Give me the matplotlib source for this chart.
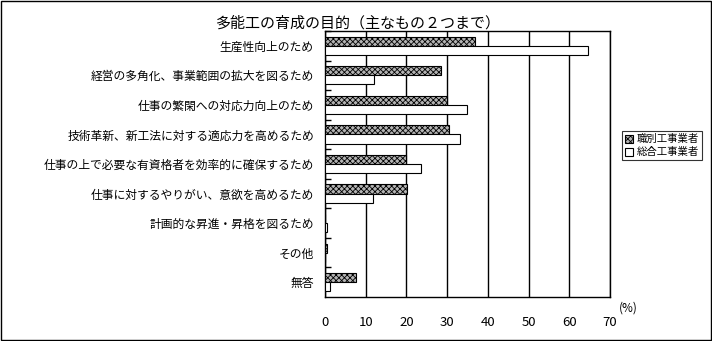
import matplotlib
matplotlib.use("Agg")
import matplotlib.pyplot as plt
import numpy as np
from matplotlib.patches import Rectangle

plt.rcParams['font.family'] = ['Noto Sans CJK JP', 'DejaVu Sans']
plt.rcParams['hatch.linewidth'] = 0.6

title = "多能工の育成の目的（主なもの２つまで）"
categories = [
    "生産性向上のため",
    "経営の多角化、事業範囲の拡大を図るため",
    "仕事の繁閑への対応力向上のため",
    "技術革新、新工法に対する適応力を高めるため",
    "仕事の上で必要な有資格者を効率的に確保するため",
    "仕事に対するやりがい、意欲を高めるため",
    "計画的な昇進・昇格を図るため",
    "その他",
    "無答",
]
series_names = ["職別工事業者", "総合工事業者"]
shokubetsu = [36.9, 28.5, 30.0, 30.5, 19.8, 20.1, 0.0, 0.5, 7.5]
sogo = [64.6, 12.0, 34.9, 33.2, 23.6, 11.8, 0.5, 0.0, 1.3]
xticks = [0, 10, 20, 30, 40, 50, 60, 70]

fig = plt.figure(figsize=(7.12, 3.41), dpi=100)
ax = fig.add_axes([325/712, 1-297/341, 285/712, 266/341])

n = len(categories)
y = np.arange(n)
h = 0.31
ax.barh(y - h/2, shokubetsu, height=h, facecolor='#b4b4b4', edgecolor='black',
        hatch='xxxxxx', linewidth=0.8, label=series_names[0], zorder=3)
ax.barh(y + h/2, sogo, height=h, facecolor='white', edgecolor='black',
        linewidth=0.8, label=series_names[1], zorder=3)

ax.set_ylim(n - 0.5, -0.5)
ax.set_xlim(0, 70)
ax.set_xticks(xticks)
ax.set_xticklabels([str(t) for t in xticks], fontsize=9.5)
ax.tick_params(axis='x', length=0, pad=14)
ax.xaxis.grid(True, color='black', linewidth=1.0, zorder=0)

# category boundary ticks on left axis
ax.set_yticks(np.arange(n) - 0.5, minor=True)
ax.set_yticks(y)
ax.set_yticklabels(categories, fontsize=8.5)
ax.tick_params(axis='y', which='major', length=0, pad=8)
ax.tick_params(axis='y', which='minor', direction='in', length=4, width=1)
for s in ax.spines.values():
    s.set_linewidth(1.0)

fig.text(628/712, 1-308/341, "(%)", fontsize=8.5, ha='center', va='center')

fig.text(215/712, 1-23/341, title, fontsize=10.8, ha='left', va='center')

leg = fig.legend(loc='upper left', bbox_to_anchor=(622/712, 1-131/341), fontsize=7.5,
                 frameon=True, fancybox=False, edgecolor='black', handlelength=0.8,
                 handleheight=0.8, handletextpad=0.3, borderpad=0.3, labelspacing=0.3,
                 borderaxespad=0)
leg.get_frame().set_linewidth(0.8)

fig.patches.append(Rectangle((0.002, 0.003), 0.996, 0.994, transform=fig.transFigure,
                             fill=False, edgecolor='black', linewidth=1.0))

fig.savefig("out.png", dpi=100)
